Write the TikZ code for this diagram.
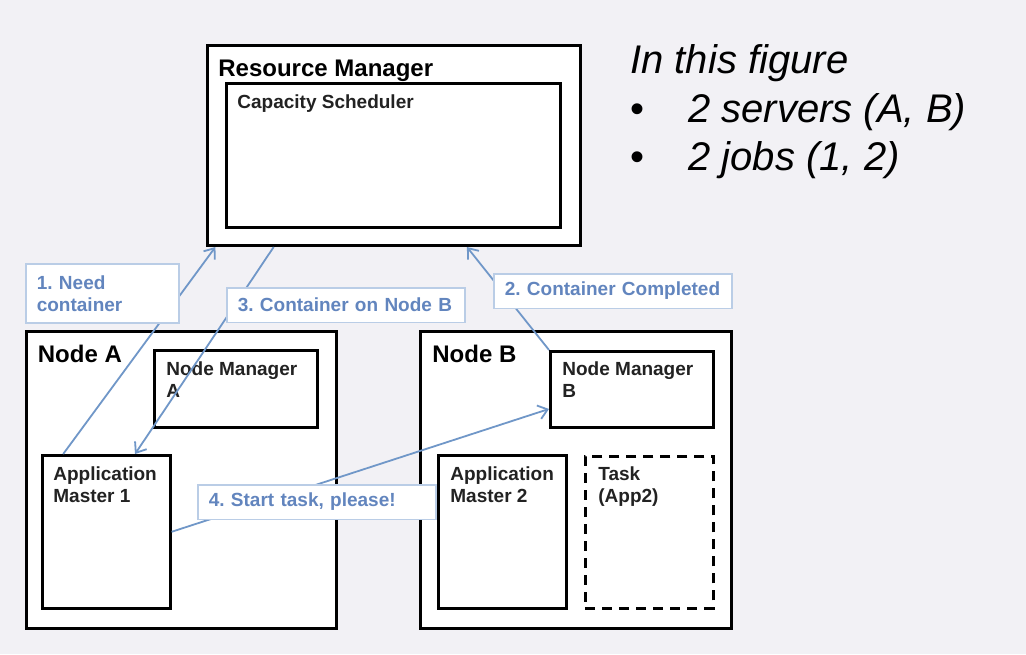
\documentclass[tikz,border=0pt]{standalone}
\usepackage{fontspec}
\setmainfont{Liberation Sans}
\usetikzlibrary{calc,arrows.meta}
\definecolor{slidebg}{RGB}{242,241,245}
\definecolor{msgline}{RGB}{112,151,200}
\definecolor{msgframe}{RGB}{186,205,230}
\definecolor{msgtext}{RGB}{98,133,190}
\definecolor{boxtext}{RGB}{34,34,34}
\tikzset{
  outerbox/.style={draw, fill=white, line width=1.5pt, anchor=north west, inner sep=0pt},
  innerbox/.style={draw, fill=white, line width=1.3pt, anchor=north west, inner sep=0pt},
  bigtitle/.style={anchor=north west, inner sep=0pt, font=\bfseries\fontsize{12}{14}\selectfont},
  smalltitle/.style={anchor=north west, inner sep=0pt, align=left, text=boxtext, font=\bfseries\fontsize{9.5}{11}\selectfont},
  msgbox/.style={draw=msgframe, line width=0.8pt, fill=white, text=msgtext, anchor=north west, align=left, inner xsep=5.5pt, inner ysep=0pt, text width=108pt, minimum height=17.25pt, font=\bfseries\fontsize{9.5}{11}\selectfont\frenchspacing},
  msgarrow/.style={draw=msgline, line width=0.9pt, -{Straight Barb[length=4.5pt, width=7pt]}}
}
\begin{document}
\frenchspacing
\begin{tikzpicture}[x=0.5pt, y=-0.5pt]
    \fill[slidebg] (0,0) rectangle (1026,654);

    \node[outerbox, minimum width=186.5pt, minimum height=100pt] (rm) at (206,44) {};
    \node[innerbox, minimum width=167pt, minimum height=72pt] (cs) at (225,82) {};
    \node[outerbox, minimum width=155pt, minimum height=148.5pt] (nodeA) at (25,330) {};
    \node[outerbox, minimum width=155.5pt, minimum height=148.5pt] (nodeB) at (419,330) {};
    \node[innerbox, minimum width=81.5pt, minimum height=38.5pt] (nmA) at (153,349) {};
    \node[innerbox, minimum width=81.5pt, minimum height=38pt] (nmB) at (549,350) {};
    \node[innerbox, minimum width=64pt, minimum height=76.5pt] (am1) at (41,454) {};
    \node[innerbox, minimum width=64pt, minimum height=76.5pt] (am2) at (437,454) {};
    \node[innerbox, dash pattern=on 5pt off 3.5pt, minimum width=64pt, minimum height=76pt] (task) at (584,455) {};

    \node[bigtitle] (rmtitle) at (218,59.8) {Resource Manager};
    \node[smalltitle] (cstitle) at (237,94.4) {Capacity Scheduler};
    \node[bigtitle] (natitle) at (37.5,344.8) {Node A};
    \node[bigtitle] (nbtitle) at (432,344.8) {Node B};
    \node[smalltitle] (nmAtitle) at (166,361.4) {Node Manager\\A};
    \node[smalltitle] (nmBtitle) at (562,361.4) {Node Manager\\B};
    \node[smalltitle] (am1title) at (53,466.4) {Application\\Master 1};
    \node[smalltitle] (am2title) at (450,466.4) {Application\\Master 2};
    \node[smalltitle] (tasktitle) at (598,466.4) {Task\\(App2)};

    \node[anchor=north west, inner sep=0pt, align=left, font=\itshape\fontsize{20}{24.25}\selectfont] (legend) at (630,44.4) {In this figure\\\makebox[29pt][l]{\upshape\textbullet}2 servers (A, B)\\\makebox[29pt][l]{\upshape\textbullet}2 jobs (1, 2)};

    \draw[msgarrow] ($(am1.north west)!0.17!(am1.north east)$) -- ($(rm.south west)!0.025!(rm.south east)$);
    \draw[msgarrow] ($(rm.south west)!0.18!(rm.south east)$) -- ($(am1.north west)!0.72!(am1.north east)$);
    \draw[msgarrow] (nmB.north west) -- ($(rm.south west)!0.694!(rm.south east)$);
    \draw[msgarrow] (am1.east) -- ($(nmB.north west)!0.75!(nmB.south west)$);

    \node[msgbox, text width=65.5pt, minimum height=29.5pt] (needmsg) at (25,263) {1. Need\\container};
    \node[msgbox] (placemsg) at (226,287) {\mbox{3. Container on Node B}};
    \node[msgbox] (donemsg) at (493,273) {\mbox{2. Container Completed}};
    \node[msgbox] (startmsg) at (197,484) {\mbox{4. Start task, please!}};
\end{tikzpicture}
\end{document}
